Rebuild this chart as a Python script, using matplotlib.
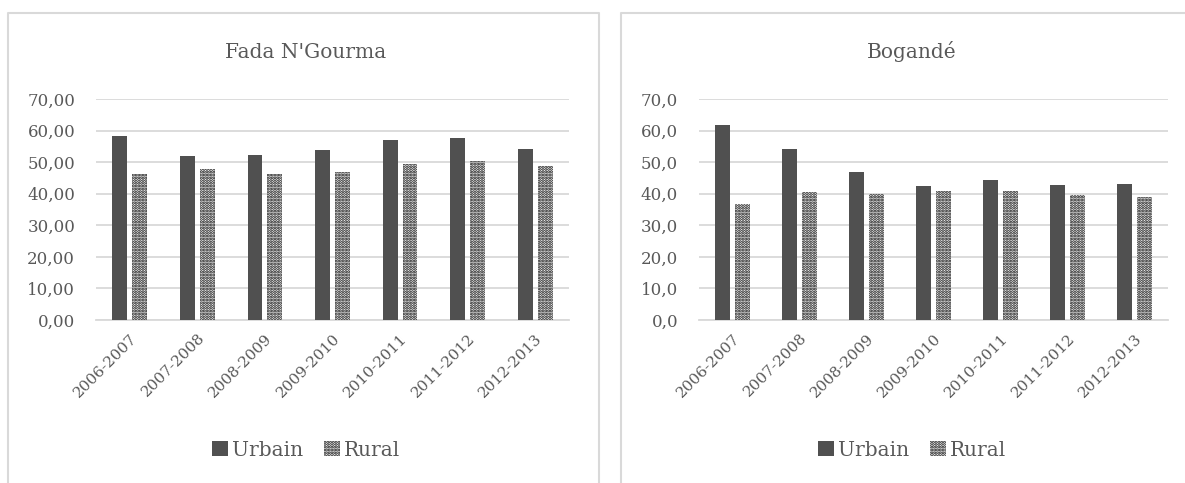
import numpy as np
import matplotlib
matplotlib.use('Agg')
import matplotlib.pyplot as plt
from matplotlib.lines import Line2D

plt.rcParams['font.family'] = ['DejaVu Serif']
plt.rcParams['hatch.color'] = 'black'
plt.rcParams['hatch.linewidth'] = 1.4

years = ['2006-2007', '2007-2008', '2008-2009', '2009-2010',
         '2010-2011', '2011-2012', '2012-2013']

fada_urbain = [58.3, 52.0, 52.4, 54.0, 57.0, 57.6, 54.2]
fada_rural = [46.3, 47.8, 46.2, 46.9, 49.5, 50.4, 48.8]

bog_urbain = [61.8, 54.2, 47.0, 42.3, 44.2, 42.9, 43.0]
bog_rural = [36.8, 40.6, 40.0, 40.9, 40.9, 39.5, 38.9]

W, H = 1185, 483
txt = '#595959'
grid = '#d9d9d9'
urb_col = '#505050'

fig = plt.figure(figsize=(W/100, H/100), dpi=100)

# panel frames, drawn as lines in pixel coords
def line(xs, ys):
    fig.lines.append(Line2D([v/W for v in xs], [1-v/H for v in ys],
                            transform=fig.transFigure, color=grid, linewidth=1.5))

line([8, 8, 599, 599], [490, 13, 13, 490])
line([621, 621, 1185], [490, 13, 13])


def panel(x0, x1, urb, rur, title, fmt, cx):
    ax = fig.add_axes([x0/W, 1-320/H, (x1-x0)/W, 221/H])
    x = np.arange(len(years))
    w = 0.22
    ax.bar(x - 0.147, urb, w, color=urb_col, zorder=3, label='Urbain')
    ax.bar(x + 0.147, rur, w, color='white', edgecolor='black', linewidth=0,
           hatch='......', zorder=3, label='Rural')
    ax.set_xlim(-0.5, len(years) - 0.5)
    ax.set_ylim(0, 70)
    ax.set_yticks(range(0, 71, 10))
    ax.set_yticklabels([fmt.format(v).replace('.', ',') for v in range(0, 71, 10)])
    ax.set_xticks(x)
    ax.set_xticklabels(years, rotation=45, ha='right', rotation_mode='anchor')
    ax.tick_params(length=0, labelsize=11, colors=txt, pad=8)
    ax.tick_params(axis='y', labelsize=12, pad=15)
    ax.grid(axis='y', color=grid, linewidth=1.3, zorder=0)
    for s in ['top', 'right', 'left']:
        ax.spines[s].set_visible(False)
    ax.spines['bottom'].set_color(grid)
    ax.spines['bottom'].set_linewidth(1.3)
    fig.text(cx/W, 1-52/H, title, ha='center', va='center', fontsize=14.5, color=txt)
    h, l = ax.get_legend_handles_labels()
    fig.legend(h, l, loc='center', bbox_to_anchor=(cx/W, 1-450/H), ncol=2,
               frameon=False, fontsize=14.5, labelcolor=txt, handlelength=0.8,
               handleheight=0.8, handletextpad=0.2, columnspacing=1.0)
    return ax


panel(96, 569, fada_urbain, fada_rural, "Fada N'Gourma", '{:.2f}', 306)
panel(699, 1168, bog_urbain, bog_rural, 'Bogandé', '{:.1f}', 912)

fig.savefig('out.png', dpi=100)
